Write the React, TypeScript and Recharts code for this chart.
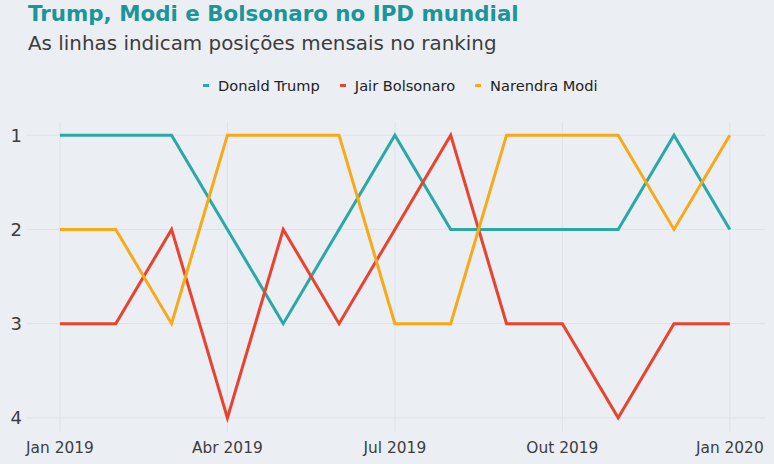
import { CartesianGrid, Line, LineChart, XAxis, YAxis } from 'recharts'

const months = [0, 1, 2, 3, 4, 5, 6, 7, 8, 9, 10, 11, 12]
const trump = [1, 1, 1, 2, 3, 2, 1, 2, 2, 2, 2, 1, 2]
const bolsonaro = [3, 3, 2, 4, 2, 3, 2, 1, 3, 3, 4, 3, 3]
const modi = [2, 2, 3, 1, 1, 1, 3, 3, 1, 1, 1, 2, 1]

const xTicks = [0, 3, 6, 9, 12]
const xTickLabels = ['Jan 2019', 'Abr 2019', 'Jul 2019', 'Out 2019', 'Jan 2020']
const yTicks = [1, 2, 3, 4]

const colors = {
  bg: '#ebeef3',
  grid: '#dfe2e8',
  text: '#3d3d3d',
  title: '#1b9598',
  trump: '#2aa8a6',
  bolsonaro: '#e8432f',
  modi: '#f7a918',
}

const series = [
  { key: 'trump', name: 'Donald Trump', color: colors.trump },
  { key: 'bolsonaro', name: 'Jair Bolsonaro', color: colors.bolsonaro },
  { key: 'modi', name: 'Narendra Modi', color: colors.modi },
]

const data = months.map((m, i) => ({
  month: m,
  trump: trump[i],
  bolsonaro: bolsonaro[i],
  modi: modi[i],
}))

const font = '"DejaVu Sans", Verdana, sans-serif'

function LegendRow() {
  return (
    <div
      style={{
        position: 'absolute',
        top: 77,
        left: 203,
        display: 'flex',
        gap: 20,
        fontSize: 14.6,
        color: '#222',
        whiteSpace: 'nowrap',
      }}
    >
      {series.map((s) => (
        <div key={s.key} style={{ display: 'flex', alignItems: 'center' }}>
          <span
            style={{ display: 'inline-block', width: 6, height: 3, background: s.color, marginRight: 9 }}
          />
          {s.name}
        </div>
      ))}
    </div>
  )
}

export default function App() {
  return (
    <div
      style={{
        position: 'absolute',
        left: 0,
        top: 0,
        width: 774,
        height: 464,
        background: colors.bg,
        fontFamily: font,
      }}
    >
      <LineChart
        width={774}
        height={464}
        data={data}
        margin={{ top: 122, right: 9, bottom: 0, left: 0 }}
      >
        <CartesianGrid stroke={colors.grid} strokeWidth={1} horizontalValues={yTicks} verticalValues={xTicks} />
        <XAxis
          dataKey="month"
          type="number"
          domain={[-0.59, 12.63]}
          allowDataOverflow
          ticks={xTicks}
          tickFormatter={(v: number) => xTickLabels[xTicks.indexOf(v)]}
          axisLine={false}
          tickLine={false}
          tickSize={0}
          tickMargin={10}
          height={32}
          tick={{ fill: colors.text, fontSize: 15.4, fontFamily: font }}
        />
        <YAxis
          type="number"
          reversed
          domain={[0.86, 4.15]}
          allowDataOverflow
          ticks={yTicks}
          axisLine={false}
          tickLine={false}
          tickSize={0}
          tickMargin={5}
          width={27}
          tick={{ fill: colors.text, fontSize: 18, fontFamily: font }}
        />
        {series.map((s) => (
          <Line
            key={s.key}
            type="linear"
            dataKey={s.key}
            name={s.name}
            stroke={s.color}
            strokeWidth={3}
            dot={false}
            activeDot={false}
            isAnimationActive={false}
          />
        ))}
      </LineChart>
      <div
        style={{
          position: 'absolute',
          left: 28,
          top: 1,
          fontSize: 21.4,
          fontWeight: 'bold',
          color: colors.title,
          whiteSpace: 'nowrap',
        }}
      >
        Trump, Modi e Bolsonaro no IPD mundial
      </div>
      <div
        style={{
          position: 'absolute',
          left: 28,
          top: 32,
          fontSize: 19.9,
          color: colors.text,
          whiteSpace: 'nowrap',
        }}
      >
        As linhas indicam posições mensais no ranking
      </div>
      <LegendRow />
    </div>
  )
}
